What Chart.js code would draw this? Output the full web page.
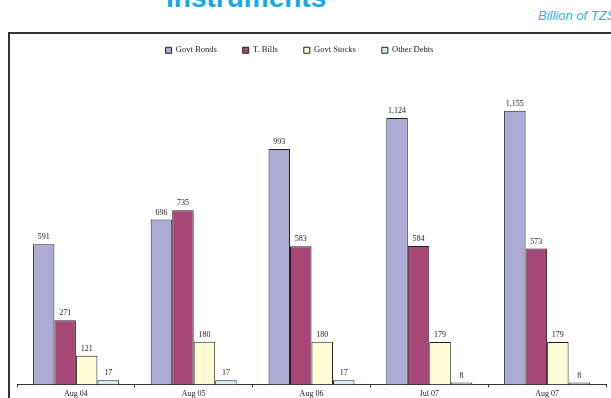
<!DOCTYPE html>
<html>
<head>
<meta charset="utf-8">
<script src="https://cdn.jsdelivr.net/npm/chart.js@4.4.1/dist/chart.umd.min.js"></script>
<style>
  html, body { margin: 0; padding: 0; background: #fff; overflow: hidden; }
  body { width: 611px; height: 398px; position: relative; }
  #titulo {
    position: absolute; left: 166px; top: -16px;
    font: bold 28px/28px "Liberation Sans", Arial, sans-serif;
    color: #12A9E6; white-space: nowrap;
  }
  #unidade {
    position: absolute; left: 538px; top: 8px;
    font: italic 13px/15px "Liberation Sans", Arial, sans-serif;
    color: #2DB2EE; white-space: nowrap;
  }
  #moldura {
    position: absolute; left: 8px; top: 32px; width: 620px; height: 400px;
    border-top: 2px solid #333; border-left: 2px solid #333;
  }
  #grafico { position: absolute; left: 10px; top: 8px; }
</style>
</head>
<body>
<div id="titulo">Instruments</div>
<div id="unidade">Billion of TZS</div>
<div id="moldura"></div>
<canvas id="grafico" width="601" height="393"></canvas>
<script>
// valores em bilhões de TZS
const categorias = ['Aug 04', 'Aug 05', 'Aug 06', 'Jul 07', 'Aug 07'];
const govtBonds = [591, 696, 993, 1124, 1155];
const tBills = [271, 735, 583, 584, 573];
const govtStocks = [121, 180, 180, 179, 179];
const otherDebts = [17, 17, 17, 8, 8];

const fonteSerif = '"Liberation Serif", "Times New Roman", serif';

// escreve o valor em cima de cada barra
const rotulosValores = {
  id: 'rotulosValores',
  afterDatasetsDraw(chart) {
    const ctx = chart.ctx;
    ctx.save();
    ctx.font = '8px ' + fonteSerif;
    ctx.fillStyle = '#222';
    ctx.textAlign = 'center';
    ctx.textBaseline = 'bottom';
    chart.data.datasets.forEach((ds, i) => {
      chart.getDatasetMeta(i).data.forEach((bar, j) => {
        ctx.fillText(ds.data[j].toLocaleString('en-US'), bar.x, bar.y - 3);
      });
    });
    ctx.restore();
  }
};

// a legenda fica um pouco à esquerda do centro
const deslocaLegenda = {
  id: 'deslocaLegenda',
  afterLayout(chart) {
    const leg = chart.legend;
    if (leg) {
      leg.left -= 12;
      leg.right -= 12;
    }
  }
};

function serie(label, data, cor) {
  return {
    label: label,
    data: data,
    backgroundColor: cor,
    borderColor: '#222',
    borderWidth: 1,
    barPercentage: 1,
    categoryPercentage: 0.73
  };
}

new Chart(document.getElementById('grafico'), {
  type: 'bar',
  data: {
    labels: categorias,
    datasets: [
      serie('Govt Bonds', govtBonds, '#ABABD6'),
      serie('T. Bills', tBills, '#A74777'),
      serie('Govt Stocks', govtStocks, '#FFFBD5'),
      serie('Other Debts', otherDebts, '#D3F0F8')
    ]
  },
  options: {
    responsive: false,
    animation: false,
    layout: { padding: { left: 7, right: 5, top: 12, bottom: 0 } },
    plugins: {
      legend: {
        display: true,
        position: 'top',
        labels: {
          boxWidth: 6,
          boxHeight: 6,
          padding: 26,
          color: '#222',
          font: { family: fonteSerif, size: 8.5 }
        }
      },
      tooltip: { enabled: false }
    },
    scales: {
      x: {
        border: { display: true, color: '#333', width: 1 },
        grid: {
          offset: true,
          drawOnChartArea: false,
          drawTicks: true,
          tickLength: 3,
          color: '#333'
        },
        ticks: {
          color: '#222',
          padding: 2,
          font: { family: fonteSerif, size: 8 }
        }
      },
      y: {
        display: false,
        min: 0,
        max: 1350
      }
    }
  },
  plugins: [rotulosValores, deslocaLegenda]
});
</script>
</body>
</html>
